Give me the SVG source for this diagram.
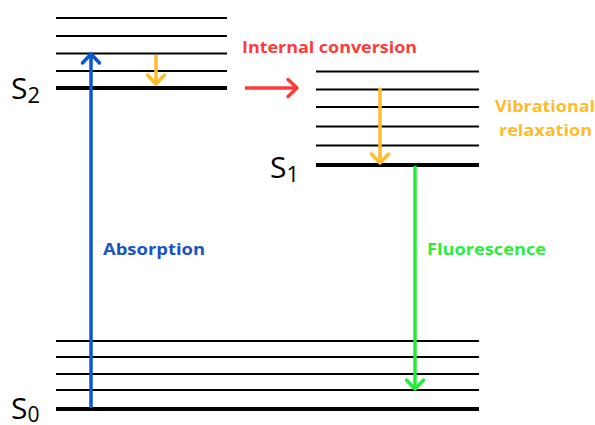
<svg xmlns="http://www.w3.org/2000/svg" width="595" height="425" viewBox="0 0 595 425">
<style>
.thin{stroke:#000;stroke-width:2.2;fill:none}
.thick{stroke:#000;stroke-width:4;fill:none}
.state{font-family:"Open Sans","Noto Sans",sans-serif;fill:#000}
.lbl{font-family:"Open Sans","Noto Sans",sans-serif;font-weight:700;font-size:16px}
.arr{fill:none;stroke-width:3.5}
</style>
<defs>
<marker id="hb" markerUnits="userSpaceOnUse" viewBox="-12 -12 24 24" markerWidth="24" markerHeight="24" orient="auto" refX="0" refY="0"><path d="M-9,-8.5 L0,0 L-9,8.5" fill="none" stroke="#0b57d0" stroke-width="3.5" stroke-linecap="round" stroke-linejoin="round"/></marker>
<marker id="hy" markerUnits="userSpaceOnUse" viewBox="-12 -12 24 24" markerWidth="24" markerHeight="24" orient="auto" refX="0" refY="0"><path d="M-9,-8.5 L0,0 L-9,8.5" fill="none" stroke="#ffbc2a" stroke-width="3.5" stroke-linecap="round" stroke-linejoin="round"/></marker>
<marker id="hr" markerUnits="userSpaceOnUse" viewBox="-12 -12 24 24" markerWidth="24" markerHeight="24" orient="auto" refX="0" refY="0"><path d="M-9,-8.5 L0,0 L-9,8.5" fill="none" stroke="#ff3a3a" stroke-width="3.5" stroke-linecap="round" stroke-linejoin="round"/></marker>
<marker id="hg" markerUnits="userSpaceOnUse" viewBox="-12 -12 24 24" markerWidth="24" markerHeight="24" orient="auto" refX="0" refY="0"><path d="M-9,-8.5 L0,0 L-9,8.5" fill="none" stroke="#22ee3a" stroke-width="3.5" stroke-linecap="round" stroke-linejoin="round"/></marker>
</defs>
<rect width="595" height="425" fill="#fff"/>
<g id="S2">
<line class="thin" x1="56" y1="18" x2="227" y2="18"/>
<line class="thin" x1="56" y1="36" x2="227" y2="36"/>
<line class="thin" x1="56" y1="53.5" x2="227" y2="53.5"/>
<line class="thin" x1="56" y1="71" x2="227" y2="71"/>
<line class="thick" x1="56" y1="88" x2="227" y2="88"/>
<text class="state" x="11" y="99" font-size="30">S<tspan font-size="22" dy="4">2</tspan></text>
</g>
<g id="S1">
<line class="thin" x1="316" y1="71.5" x2="479" y2="71.5"/>
<line class="thin" x1="316" y1="89.5" x2="479" y2="89.5"/>
<line class="thin" x1="316" y1="107" x2="479" y2="107"/>
<line class="thin" x1="316" y1="126.5" x2="479" y2="126.5"/>
<line class="thin" x1="316" y1="145.5" x2="479" y2="145.5"/>
<line class="thick" x1="316" y1="165" x2="479" y2="165"/>
<text class="state" x="270" y="178" font-size="30">S<tspan font-size="22" dy="4">1</tspan></text>
</g>
<g id="S0">
<line class="thin" x1="56" y1="341" x2="479" y2="341"/>
<line class="thin" x1="56" y1="357" x2="479" y2="357"/>
<line class="thin" x1="56" y1="374" x2="479" y2="374"/>
<line class="thin" x1="56" y1="390" x2="479" y2="390"/>
<line class="thick" x1="56" y1="409" x2="479" y2="409"/>
<text class="state" x="11" y="419" font-size="30">S<tspan font-size="21" dy="3">0</tspan></text>
</g>
<g id="connectors">
<line class="arr" stroke="#0b57d0" x1="91" y1="408" x2="91" y2="54" marker-end="url(#hb)"/>
<line class="arr" stroke="#ffbc2a" x1="156" y1="55" x2="156" y2="84" marker-end="url(#hy)"/>
<line class="arr" stroke="#ff3a3a" x1="245" y1="88" x2="297" y2="88" marker-end="url(#hr)"/>
<line class="arr" stroke="#ffbc2a" x1="380" y1="88" x2="380" y2="163" marker-end="url(#hy)"/>
<line class="arr" stroke="#22ee3a" x1="415" y1="166" x2="415" y2="389" marker-end="url(#hg)"/>
</g>
<g id="labels">
<text class="lbl" x="242" y="53" fill="#ff3a3a" textLength="175" lengthAdjust="spacingAndGlyphs">Internal conversion</text>
<text class="lbl" x="495" y="112" fill="#ffbc2a" font-size="17" textLength="100" lengthAdjust="spacingAndGlyphs">Vibrational</text>
<text class="lbl" x="499" y="136" fill="#ffbc2a" font-size="17" textLength="93" lengthAdjust="spacingAndGlyphs">relaxation</text>
<text class="lbl" x="103" y="255" fill="#1a53c8" textLength="102" lengthAdjust="spacingAndGlyphs">Absorption</text>
<text class="lbl" x="427" y="255" fill="#2aee3a" textLength="119" lengthAdjust="spacingAndGlyphs">Fluorescence</text>
</g>
</svg>
